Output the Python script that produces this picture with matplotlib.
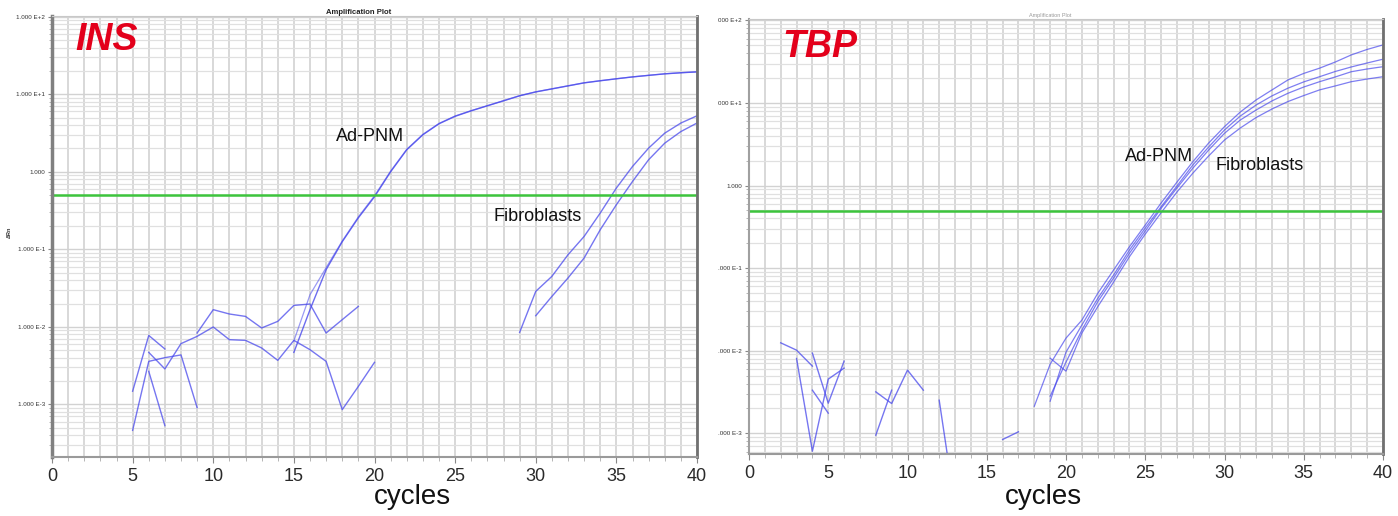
import matplotlib
matplotlib.use('Agg')
import matplotlib.pyplot as plt
from matplotlib.ticker import LogLocator, FixedLocator, FixedFormatter, NullFormatter, MultipleLocator

plt.rcParams['font.family'] = ['Liberation Sans', 'DejaVu Sans']

W, H = 1398, 516

# ---------------- INS panel ----------------
ins_noise = [
    ([5, 6, 7], [1.48e-3, 7.76e-3, 5.19e-3]),
    ([5, 6, 7, 8, 9], [4.63e-4, 3.59e-3, 4.01e-3, 4.35e-3, 9.1e-4]),
    ([6, 7], [2.67e-3, 5.33e-4]),
    ([6, 7, 8, 9, 10, 11, 12, 13, 14, 15, 16, 17, 18, 19, 20],
     [4.69e-3, 2.87e-3, 6.08e-3, 7.55e-3, 9.97e-3, 6.84e-3, 6.70e-3, 5.35e-3,
      3.70e-3, 6.70e-3, 5.08e-3, 3.59e-3, 8.57e-4, 1.71e-3, 3.49e-3]),
    ([9, 10, 11, 12, 13, 14, 15, 16, 17, 18, 19],
     [8.34e-3, 1.667e-2, 1.466e-2, 1.365e-2, 9.68e-3, 1.178e-2, 1.892e-2,
      1.972e-2, 8.34e-3, 1.239e-2, 1.837e-2]),
]

ins_adpnm_x = list(range(15, 41))
ins_adpnm_1 = [4.69e-3, 1.667e-2, 5.46e-2, 0.1254, 0.255, 0.476, 1.0, 1.92, 3.0,
               4.16, 5.19, 6.11, 7.09, 8.22, 9.54, 10.7, 11.7, 12.8, 14.0, 14.9,
               15.8, 16.7, 17.5, 18.3, 18.9, 19.4]
ins_adpnm_2 = [6.6e-3, 2.6e-2, 5.8e-2, 0.128, 0.262, 0.49, 1.02, 1.95, 3.04,
               4.2, 5.24, 6.15, 7.12, 8.26, 9.58, 10.75, 11.75, 12.85, 14.05, 14.95,
               15.85, 16.75, 17.55, 18.35, 18.95, 19.45]

ins_fib1_x = list(range(29, 41))
ins_fib1 = [8.49e-3, 2.87e-2, 4.48e-2, 8.51e-2, 0.1467, 0.294, 0.617, 1.17, 2.02,
            3.15, 4.25, 5.27]
ins_fib2_x = list(range(30, 41))
ins_fib2 = [1.393e-2, 2.47e-2, 4.27e-2, 7.73e-2, 0.179, 0.376, 0.750, 1.43, 2.34,
            3.30, 4.25]

ins_threshold = 0.505

# ---------------- TBP panel ----------------
tbp_noise = [
    ([2, 3, 4], [1.244e-2, 1.014e-2, 6.49e-3]),
    ([3, 4, 5, 6], [8.04e-3, 6.05e-4, 4.52e-3, 6.14e-3]),
    ([4, 5, 6], [9.33e-3, 2.31e-3, 7.46e-3]),
    ([4, 5], [3.32e-3, 1.75e-3]),
    ([8, 9, 10, 11], [3.17e-3, 2.29e-3, 5.81e-3, 3.32e-3]),
    ([8, 9], [9.46e-4, 3.32e-3]),
    ([12, 13], [2.51e-3, 1.3e-4]),
    ([16, 17], [8.39e-4, 1.04e-3]),
]

tbp_t1_x = list(range(18, 41))
tbp_t1 = [2.12e-3, 6.86e-3, 1.418e-2, 2.34e-2, 4.93e-2, 9.46e-2, 0.181, 0.332, 0.614,
          1.10, 1.94, 3.27, 5.17, 7.78, 10.9, 14.4, 19.0, 22.8, 26.4, 31.4, 38.2,
          44.5, 50.5]
tbp_x = list(range(19, 41))
tbp_t2 = [2.44e-3, 9.59e-3, 2.04e-2, 4.29e-2, 8.22e-2, 0.165, 0.305, 0.553, 0.986,
          1.77, 2.93, 4.71, 6.95, 9.46, 12.2, 15.1, 18.0, 20.8, 24.1, 27.3, 30.5, 33.9]
tbp_t3 = [2.81e-3, 7.26e-3, 1.77e-2, 3.91e-2, 7.56e-2, 0.151, 0.281, 0.529, 0.933,
          1.62, 2.69, 4.29, 6.22, 8.23, 10.6, 13.1, 15.6, 18.1, 20.7, 23.9, 25.8, 27.5]
tbp_t4 = [8.11e-3, 5.65e-3, 1.63e-2, 3.40e-2, 6.76e-2, 0.137, 0.258, 0.468, 0.834,
          1.41, 2.28, 3.56, 4.98, 6.67, 8.46, 10.4, 12.3, 14.4, 16.1, 18.1, 19.5, 20.8]

tbp_threshold = 0.49

x_ticks = [0, 5, 10, 15, 20, 25, 30, 35, 40]
y_ticks = [1e-3, 1e-2, 1e-1, 1, 1e1, 1e2]
ins_ylabels = ['1.000 E-3', '1.000 E-2', '1.000 E-1', '1.000', '1.000 E+1', '1.000 E+2']
tbp_ylabels = ['.000 E-3', '.000 E-2', '.000 E-1', '1.000', '000 E+1', '000 E+2']

BLUE = '#4848ec'
GREEN = '#3cc43c'


def px_box(x0, x1, ytop, ybot):
    return [x0 / W, 1 - ybot / H, (x1 - x0) / W, (ybot - ytop) / H]


def style_axes(ax, ylim, ylabels):
    ax.set_yscale('log')
    ax.set_xlim(0, 40)
    ax.set_ylim(*ylim)
    ax.xaxis.set_major_locator(FixedLocator(x_ticks))
    ax.xaxis.set_minor_locator(MultipleLocator(1))
    ax.yaxis.set_major_locator(FixedLocator(y_ticks))
    ax.yaxis.set_major_formatter(FixedFormatter(ylabels))
    ax.yaxis.set_minor_locator(LogLocator(base=10, subs=range(2, 10), numticks=20))
    ax.yaxis.set_minor_formatter(NullFormatter())
    ax.grid(which='both', axis='x', color='#d6d6d6', lw=1.3)
    ax.grid(which='major', axis='y', color='#d2d2d2', lw=1.0)
    ax.grid(which='minor', axis='y', color='#e0e0e0', lw=0.9)
    ax.set_axisbelow(True)
    ax.tick_params(axis='x', which='major', labelsize=13, colors='#888888',
                   labelcolor='#2a2a2a', length=4, pad=4)
    ax.tick_params(axis='x', which='minor', colors='#aaaaaa', length=3)
    ax.tick_params(axis='y', which='major', labelsize=4.5, colors='#888888',
                   labelcolor='#333333', length=3, pad=2)
    ax.tick_params(axis='y', which='minor', colors='#aaaaaa', length=2)
    ax.spines['top'].set_color('#c8c8c8')
    ax.spines['bottom'].set_color('#9a9a9a')
    ax.spines['bottom'].set_linewidth(1.5)
    ax.spines['right'].set_color('#707070')
    ax.spines['right'].set_linewidth(2)


fig = plt.figure(figsize=(W / 100, H / 100), dpi=100)

# --- INS ---
ax1 = fig.add_axes(px_box(52, 697, 16, 457))
style_axes(ax1, (2.1e-4, 1.02e2), ins_ylabels)
ax1.spines['left'].set_color('#808080')
ax1.spines['left'].set_linewidth(2.5)
for cx, cy in ins_noise:
    ax1.plot(cx, cy, color=BLUE, lw=1.0, alpha=0.75)
ax1.plot(ins_adpnm_x, ins_adpnm_1, color=BLUE, lw=1.0, alpha=0.8)
ax1.plot(ins_adpnm_x, ins_adpnm_2, color=BLUE, lw=0.9, alpha=0.55)
ax1.plot(ins_fib1_x, ins_fib1, color=BLUE, lw=1.0, alpha=0.75)
ax1.plot(ins_fib2_x, ins_fib2, color=BLUE, lw=1.0, alpha=0.75)
ax1.axhline(ins_threshold, color=GREEN, lw=1.8)
ax1.text(17.6, 2.83, 'Ad-PNM', fontsize=13, color='#111111', va='center', ha='left')
ax1.text(27.35, 0.263, 'Fibroblasts', fontsize=13, color='#111111', va='center', ha='left')

# --- TBP ---
ax2 = fig.add_axes(px_box(749, 1383, 19, 454))
style_axes(ax2, (5.6e-4, 1.04e2), tbp_ylabels)
ax2.spines['left'].set_color('#a0a0a0')
ax2.spines['left'].set_linewidth(1.5)
for cx, cy in tbp_noise:
    ax2.plot(cx, cy, color=BLUE, lw=1.0, alpha=0.75)
ax2.plot(tbp_t1_x, tbp_t1, color=BLUE, lw=0.9, alpha=0.7)
for t in (tbp_t2, tbp_t3, tbp_t4):
    ax2.plot(tbp_x, t, color=BLUE, lw=0.9, alpha=0.7)
ax2.axhline(tbp_threshold, color=GREEN, lw=1.8)
ax2.text(23.75, 2.25, 'Ad-PNM', fontsize=13, color='#111111', va='center', ha='left')
ax2.text(29.44, 1.77, 'Fibroblasts', fontsize=13, color='#111111', va='center', ha='left')

# titres et textes
fig.text(75 / W, 1 - 40 / H, 'INS', fontsize=27, color='#e3001b',
         fontweight='bold', fontstyle='italic', ha='left', va='center')
fig.text(782 / W, 1 - 47 / H, 'TBP', fontsize=27, color='#e3001b',
         fontweight='bold', fontstyle='italic', ha='left', va='center')
fig.text(412 / W, 1 - 497 / H, 'cycles', fontsize=20, color='#111111',
         ha='center', va='center')
fig.text(1043 / W, 1 - 497 / H, 'cycles', fontsize=20, color='#111111',
         ha='center', va='center')
fig.text(359 / W, 1 - 12 / H, 'Amplification Plot', fontsize=5.5, fontweight='bold',
         color='#222222', ha='center', va='center')
fig.text(1050 / W, 1 - 16 / H, 'Amplification Plot', fontsize=4, color='#999999',
         ha='center', va='center')
fig.text(9 / W, 1 - 232 / H, 'ΔRn', fontsize=4, fontweight='bold', rotation=90,
         color='#333333', ha='center', va='center')

fig.savefig('out.png', dpi=100)
